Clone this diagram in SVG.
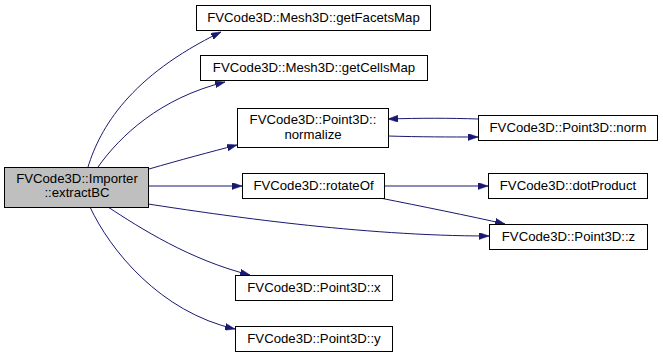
<svg xmlns="http://www.w3.org/2000/svg" width="663" height="357" viewBox="0 0 663 357">
  <style>
    .node rect { fill: #ffffff; stroke: #000000; stroke-width: 1; }
    .node.root rect { fill: #bfbfbf; }
    .node text { font-family: "Liberation Sans", Arial, Helvetica, sans-serif; font-size: 13.2px; fill: #000000; text-anchor: middle; }
    .edge { fill: none; stroke: #191970; stroke-width: 1; marker-end: url(#arrow); }
  </style>
  <defs>
    <marker id="arrow" viewBox="0 0 10 7" refX="10" refY="3.5" markerWidth="10" markerHeight="7" markerUnits="userSpaceOnUse" orient="auto">
      <path d="M0,0 L10,3.5 L0,7 z" fill="#191970" stroke="#191970" stroke-width="0.5"/>
    </marker>
  </defs>
  <rect width="663" height="357" fill="#ffffff"/>

  <g id="edges">
    <path class="edge" d="M88,167 C100,128 130,76 221,32"/>
    <path class="edge" d="M98,167 C120,136 160,98 225,82"/>
    <path class="edge" d="M149,169 C180,160 210,152 237,145"/>
    <path class="edge" d="M149,186 L242,186"/>
    <path class="edge" d="M148,204 C220,215 360,236 489,236"/>
    <path class="edge" d="M108,207 C140,228 190,260 250,275"/>
    <path class="edge" d="M90,207 C110,250 160,312 235,329"/>
    <path class="edge" d="M478,119 C450,118 420,118 388,119"/>
    <path class="edge" d="M388,136 C420,137 450,137 478,137"/>
    <path class="edge" d="M384,186 L488,186"/>
    <path class="edge" d="M380,198 C420,206 470,216 505,224"/>
  </g>

  <g id="importer_extractBC" class="node root">
    <rect x="4.5" y="167.5" width="144" height="40"/>
    <text x="77" y="183">FVCode3D::Importer</text>
    <text x="77" y="197">::extractBC</text>
  </g>
  <g id="mesh3d_getFacetsMap" class="node">
    <rect x="196.5" y="5.5" width="234" height="25"/>
    <text x="313.5" y="22">FVCode3D::Mesh3D::getFacetsMap</text>
  </g>
  <g id="mesh3d_getCellsMap" class="node">
    <rect x="200.5" y="55.5" width="227" height="25"/>
    <text x="314" y="72">FVCode3D::Mesh3D::getCellsMap</text>
  </g>
  <g id="point3d_normalize" class="node">
    <rect x="237.5" y="108.5" width="151" height="39"/>
    <text x="313" y="124">FVCode3D::Point3D::</text>
    <text x="313" y="139">normalize</text>
  </g>
  <g id="point3d_norm" class="node">
    <rect x="478.5" y="115.5" width="179" height="25"/>
    <text x="568" y="132">FVCode3D::Point3D::norm</text>
  </g>
  <g id="rotateOf" class="node">
    <rect x="242.5" y="173.5" width="142" height="25"/>
    <text x="313.5" y="190">FVCode3D::rotateOf</text>
  </g>
  <g id="dotProduct" class="node">
    <rect x="488.5" y="173.5" width="159" height="25"/>
    <text x="568" y="190">FVCode3D::dotProduct</text>
  </g>
  <g id="point3d_z" class="node">
    <rect x="489.5" y="224.5" width="158" height="25"/>
    <text x="568.5" y="241">FVCode3D::Point3D::z</text>
  </g>
  <g id="point3d_x" class="node">
    <rect x="235.5" y="275.5" width="157" height="25"/>
    <text x="314" y="292">FVCode3D::Point3D::x</text>
  </g>
  <g id="point3d_y" class="node">
    <rect x="235.5" y="326.5" width="157" height="25"/>
    <text x="314" y="343">FVCode3D::Point3D::y</text>
  </g>
</svg>
